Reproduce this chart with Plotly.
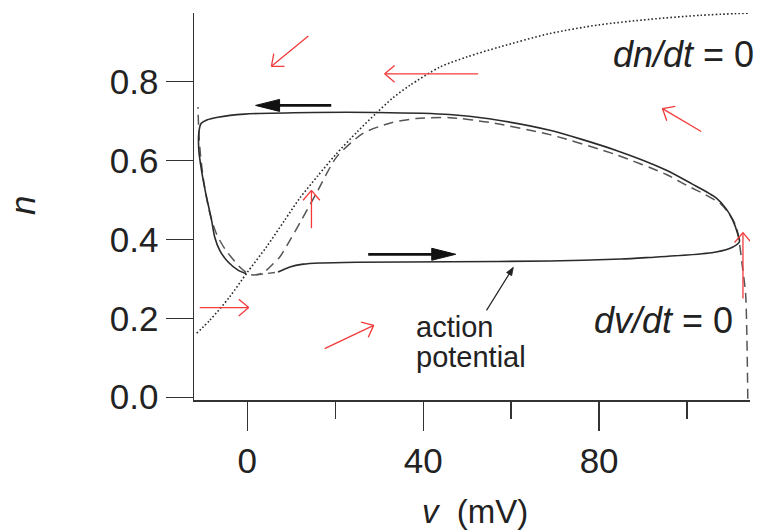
import math
import plotly.graph_objects as go

# ---------------- data ----------------
# dn/dt = 0 nullcline (dotted)
ncl_v = [-11.5, -8.5, -4.0, 0.0, 4.4, 8.5, 12.0, 16.0, 20.0, 25.0, 29.4, 33.0, 37.0,
         43.8, 50.0, 57.4, 68.8, 80.0, 91.5, 102.8, 114.3]
ncl_n = [0.162, 0.195, 0.254, 0.316, 0.381, 0.448, 0.505, 0.560, 0.613, 0.672, 0.720,
         0.757, 0.790, 0.836, 0.862, 0.887, 0.921, 0.943, 0.957, 0.967, 0.973]

# dv/dt = 0 nullcline (dashed)
vcl_v = [113.8, 113.6, 113.3, 112.6, 111.9, 111.2, 109.6, 107.6, 104.0, 100.0, 95.3, 83.9, 68.8,
         55.0, 46.0, 38.5, 32.4, 26.3, 20.3, 15.7, 12.3, 9.7, 7.4, 5.9, 4.2, 2.5, 0.5,
         -1.7, -5.1, -7.0, -8.6, -9.8, -10.6, -11.0, -11.2]
vcl_n = [-0.004, 0.15, 0.263, 0.329, 0.390, 0.431, 0.464, 0.490, 0.514, 0.536, 0.564, 0.614, 0.665,
         0.696, 0.708, 0.706, 0.694, 0.668, 0.608, 0.516, 0.448, 0.397, 0.355, 0.338, 0.320,
         0.311, 0.311, 0.330, 0.376, 0.414, 0.470, 0.540, 0.610, 0.670, 0.735]

# dashed link from the minimum onto the lower branch
link_v = [2.0, 3.5, 5.0, 6.2, 7.2]
link_n = [0.310, 0.312, 0.315, 0.316, 0.317]

# action potential trajectory (solid)
ap_v = [7.0, 9.7, 12.7, 16.5, 25.0, 46.0, 68.8, 85.0, 91.5, 100.0, 106.6, 110.3, 111.9,
        111.5, 110.4, 108.9, 106.6, 101.0, 95.3, 83.9, 68.8, 55.0, 46.0, 29.4, 15.0, -0.6, -6.7,
        -9.2, -10.5, -11.0, -11.0, -10.4, -9.5, -8.1, -7.4, -6.25, -4.4, -2.1, -0.2]
ap_n = [0.317, 0.330, 0.337, 0.340, 0.342, 0.343, 0.345, 0.350, 0.354, 0.360, 0.368, 0.380,
        0.394, 0.414, 0.448, 0.477, 0.505, 0.541, 0.575, 0.625, 0.676, 0.705, 0.716, 0.721, 0.721,
        0.717, 0.709, 0.702, 0.693, 0.670, 0.625, 0.575, 0.520, 0.448, 0.406, 0.372, 0.343,
        0.322, 0.313]

# red direction arrows: tail (v, n) -> head (v, n)
red_tail_v = [13.9, 52.5, 103.2, 14.6, -10.8, 17.6, 112.7]
red_tail_n = [0.915, 0.819, 0.673, 0.428, 0.227, 0.123, 0.250]
red_head_v = [5.5, 31.25, 94.4, 14.6, 0.34, 28.75, 112.7]
red_head_n = [0.838, 0.819, 0.731, 0.524, 0.227, 0.182, 0.417]

# black direction arrows on the cycle
blk_tail_v = [19.1, 27.5]
blk_tail_n = [0.739, 0.362]
blk_head_v = [1.9, 47.4]
blk_head_n = [0.739, 0.362]

# pointer from "action potential" label
ptr_tail = (54.4, 0.220)
ptr_head = (60.5, 0.329)

x_ticks = [0, 40, 80]
x_minor = [20, 60, 100]
y_ticks = [0.0, 0.2, 0.4, 0.6, 0.8]
y_ticklabels = ["0.0", "0.2", "0.4", "0.6", "0.8"]

# ---------------- geometry ----------------
W, H = 758, 531
PL, PT, PR, PB = 194, 13, 750, 400  # plot area in page pixels
ML, MT = PL, PT
MR, MB = W - PR, H - PB
XR = [-12.1, 114.3]
YR = [-0.007, 0.973]
PXV = (PR - PL) / (XR[1] - XR[0])
PXN = (PB - PT) / (YR[1] - YR[0])

FONT = "Liberation Sans, Arial, Helvetica, sans-serif"
RED = "#f23a3a"
DARK = "#2b2b2b"


def _unit(tail, head):
    dx = (head[0] - tail[0]) * PXV
    dy = (head[1] - tail[1]) * PXN
    d = math.hypot(dx, dy)
    return dx / d, dy / d


def _to_data(head, px, py):
    return head[0] + px / PXV, head[1] + py / PXN


def open_arrow(tail, head, L=13.0, ang=40.0):
    ux, uy = _unit(tail, head)
    xs, ys = [tail[0], head[0], None], [tail[1], head[1], None]
    for s in (1, -1):
        a = math.radians(ang) * s
        bx = -(ux * math.cos(a) - uy * math.sin(a)) * L
        by = -(ux * math.sin(a) + uy * math.cos(a)) * L
        p = _to_data(head, bx, by)
        xs += [p[0], head[0], None]
        ys += [p[1], head[1], None]
    return xs, ys


def filled_head(tail, head, L=24.0, hw=6.0):
    ux, uy = _unit(tail, head)
    px, py = -uy, ux
    b = (-ux * L, -uy * L)
    p1 = _to_data(head, b[0] + px * hw, b[1] + py * hw)
    p2 = _to_data(head, b[0] - px * hw, b[1] - py * hw)
    base = _to_data(head, b[0] + ux * 2, b[1] + uy * 2)
    return ([head[0], p1[0], p2[0], head[0]], [head[1], p1[1], p2[1], head[1]], base)


fig = go.Figure()

fig.add_trace(go.Scatter(x=ncl_v, y=ncl_n, mode="lines", line=dict(color="#2a2a2a", width=1.6, dash="1.6px,2.2px", shape="spline", smoothing=0.8), hoverinfo="skip"))
fig.add_trace(go.Scatter(x=vcl_v, y=vcl_n, mode="lines", line=dict(color="#555555", width=1.5, dash="10px,6px", shape="spline", smoothing=0.7), cliponaxis=False, hoverinfo="skip"))
fig.add_trace(go.Scatter(x=link_v, y=link_n, mode="lines", line=dict(color="#555555", width=1.5, dash="7px,5px"), hoverinfo="skip"))
fig.add_trace(go.Scatter(x=ap_v, y=ap_n, mode="lines", line=dict(color=DARK, width=1.6, shape="spline", smoothing=0.7), hoverinfo="skip"))

# red arrows
rx, ry = [], []
for i in range(len(red_tail_v)):
    xs, ys = open_arrow((red_tail_v[i], red_tail_n[i]), (red_head_v[i], red_head_n[i]))
    rx += xs
    ry += ys
fig.add_trace(go.Scatter(x=rx, y=ry, mode="lines", line=dict(color=RED, width=1.3), cliponaxis=False, hoverinfo="skip"))

# black arrows
for i in range(len(blk_tail_v)):
    t = (blk_tail_v[i], blk_tail_n[i])
    h = (blk_head_v[i], blk_head_n[i])
    hx, hy, base = filled_head(t, h, L=24, hw=6)
    fig.add_trace(go.Scatter(x=[t[0], base[0]], y=[t[1], base[1]], mode="lines", line=dict(color="#111111", width=2.8), hoverinfo="skip"))
    fig.add_trace(go.Scatter(x=hx, y=hy, mode="lines", fill="toself", fillcolor="#111111", line=dict(color="#111111", width=1), hoverinfo="skip"))

# pointer arrow
hx, hy, base = filled_head(ptr_tail, ptr_head, L=8, hw=3)
fig.add_trace(go.Scatter(x=[ptr_tail[0], base[0]], y=[ptr_tail[1], base[1]], mode="lines", line=dict(color="#222222", width=1.2), hoverinfo="skip"))
fig.add_trace(go.Scatter(x=hx, y=hy, mode="lines", fill="toself", fillcolor="#222222", line=dict(color="#222222", width=0.8), hoverinfo="skip"))


def px_to_paper(px, py):
    return (px - PL) / (PR - PL), (PB - py) / (PB - PT)


dn_x, dn_y = px_to_paper(756, 55)
xt_x, xt_y = px_to_paper(475, 511)
yt_x, yt_y = px_to_paper(23, 206)

annotations = [
    dict(x=dn_x, y=dn_y, xref="paper", yref="paper", text="<i>dn/dt</i> = 0", showarrow=False, xanchor="right", yanchor="middle", font=dict(size=36, color="#222")),
    dict(x=110.8, y=0.195, xref="x", yref="y", text="<i>dv/dt</i> = 0", showarrow=False, xanchor="right", yanchor="middle", font=dict(size=36, color="#222")),
    dict(x=37.8, y=0.178, xref="x", yref="y", text="action", showarrow=False, xanchor="left", yanchor="middle", font=dict(size=29, color="#222")),
    dict(x=37.8, y=0.102, xref="x", yref="y", text="potential", showarrow=False, xanchor="left", yanchor="middle", font=dict(size=29, color="#222")),
    dict(x=xt_x, y=xt_y, xref="paper", yref="paper", text="<i>v</i>&nbsp; (mV)", showarrow=False, xanchor="center", yanchor="middle", font=dict(size=33, color="#222")),
    dict(x=yt_x, y=yt_y, xref="paper", yref="paper", text="<i>n</i>", showarrow=False, textangle=-90, xanchor="center", yanchor="middle", font=dict(size=35, color="#222")),
]

fig.update_layout(
    template="none",
    width=W, height=H,
    margin=dict(l=ML, r=MR, t=MT, b=MB, pad=0, autoexpand=False),
    paper_bgcolor="white", plot_bgcolor="white",
    showlegend=False,
    font=dict(family=FONT, color="#222"),
    annotations=annotations,
    xaxis=dict(range=XR, automargin=False, showline=True, linecolor="#333", linewidth=1.5, showgrid=False, zeroline=False,
               ticks="outside", ticklen=29, tickwidth=1.3, tickcolor="#333",
               tickmode="array", tickvals=x_ticks, tickfont=dict(size=35, color="#222"),
               minor=dict(tickmode="array", tickvals=x_minor, ticks="outside", ticklen=17, tickwidth=1.3, tickcolor="#333", showgrid=False)),
    yaxis=dict(range=YR, automargin=False, showline=True, linecolor="#333", linewidth=1.5, showgrid=False, zeroline=False,
               ticks="outside", ticklen=27, tickwidth=1.3, tickcolor="#333",
               tickmode="array", tickvals=y_ticks, ticktext=y_ticklabels, tickfont=dict(size=35, color="#222")),
)

fig.write_html("out.html", config={"displayModeBar": False, "staticPlot": True},
               post_script="document.body.style.margin='0';document.body.style.overflow='hidden';")
